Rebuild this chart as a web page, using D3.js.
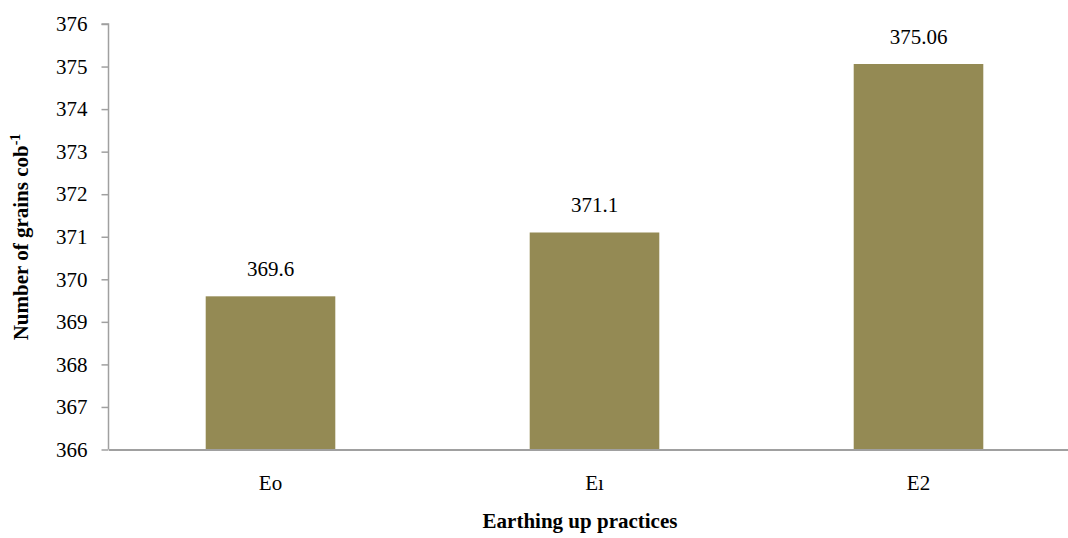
<!DOCTYPE html>
<html>
<head>
<meta charset="utf-8">
<script src="https://cdn.jsdelivr.net/npm/d3@7"></script>
</head>
<body style="margin:0">
<svg id="grainsPlot" width="1068" height="538"></svg>
<script>
// Number of grains per cob under each earthing up practice
const categories = ["E0", "E1", "E2"];
const categoryLabels = ["Eo", "E\u0131", "E2"];
const grains = [369.6, 371.1, 375.06];
const valueLabels = ["369.6", "371.1", "375.06"];
const yTicks = [366, 367, 368, 369, 370, 371, 372, 373, 374, 375, 376];

const serif = "Liberation Serif";
const svg = d3.select("#grainsPlot");
const axisColor = "#a0a0a0";
const barColor = "#948a54";

function serifText(sel, size, weight) {
  sel.attr("font-family", serif)
    .style("font-family", `"${serif}"`)
    .style("font-size", size + "px")
    .style("font-weight", weight || "normal")
    .attr("fill", "#000");
}

const x = d3.scaleBand()
  .domain(categories)
  .range([108.5, 1080.5])
  .paddingInner(0.6)
  .paddingOuter(0.3);

const y = d3.scaleLinear()
  .domain([366, 376])
  .range([449.5, 24]);

// bars
svg.append("g")
  .selectAll("rect")
  .data(categories)
  .join("rect")
  .attr("x", d => x(d))
  .attr("width", x.bandwidth())
  .attr("y", (d, i) => y(grains[i]))
  .attr("height", (d, i) => y(366) - y(grains[i]))
  .attr("fill", barColor);

// value labels
svg.append("g")
  .selectAll("text")
  .data(categories)
  .join("text")
  .attr("x", d => x(d) + x.bandwidth() / 2)
  .attr("y", (d, i) => y(grains[i]) - 20)
  .attr("text-anchor", "middle")
  .text((d, i) => valueLabels[i])
  .call(serifText, 21);

// y axis
const yAxis = svg.append("g")
  .attr("transform", "translate(108.5,0)")
  .call(d3.axisLeft(y).tickValues(yTicks).tickSize(7).tickPadding(14).tickFormat(d3.format("d")));
yAxis.attr("font-family", serif);
yAxis.select(".domain").attr("stroke", axisColor).attr("stroke-width", 1.5)
  .attr("d", `M-7,${y(376)}H0V${y(366)}`);
yAxis.selectAll(".tick line").attr("stroke", axisColor).attr("stroke-width", 1.5);
yAxis.selectAll(".tick text").call(serifText, 21);

// x axis
const xAxis = svg.append("g")
  .attr("transform", `translate(0,${y(366)})`)
  .call(d3.axisBottom(x).tickSize(0).tickPadding(26).tickFormat((d, i) => categoryLabels[i]));
xAxis.attr("font-family", serif);
xAxis.select(".domain").attr("stroke", axisColor).attr("stroke-width", 2);
xAxis.selectAll(".tick text").call(serifText, 21);

// axis titles
svg.append("text")
  .attr("x", 580)
  .attr("y", 528)
  .attr("text-anchor", "middle")
  .text("Earthing up practices")
  .call(serifText, 21, "bold");

const yTitle = svg.append("text")
  .attr("transform", "translate(28,237) rotate(-90)")
  .attr("text-anchor", "middle")
  .call(serifText, 21, "bold");
yTitle.append("tspan").text("Number of grains cob");
yTitle.append("tspan").attr("dy", -8).style("font-size", "14px").text("-1");
</script>
</body>
</html>
